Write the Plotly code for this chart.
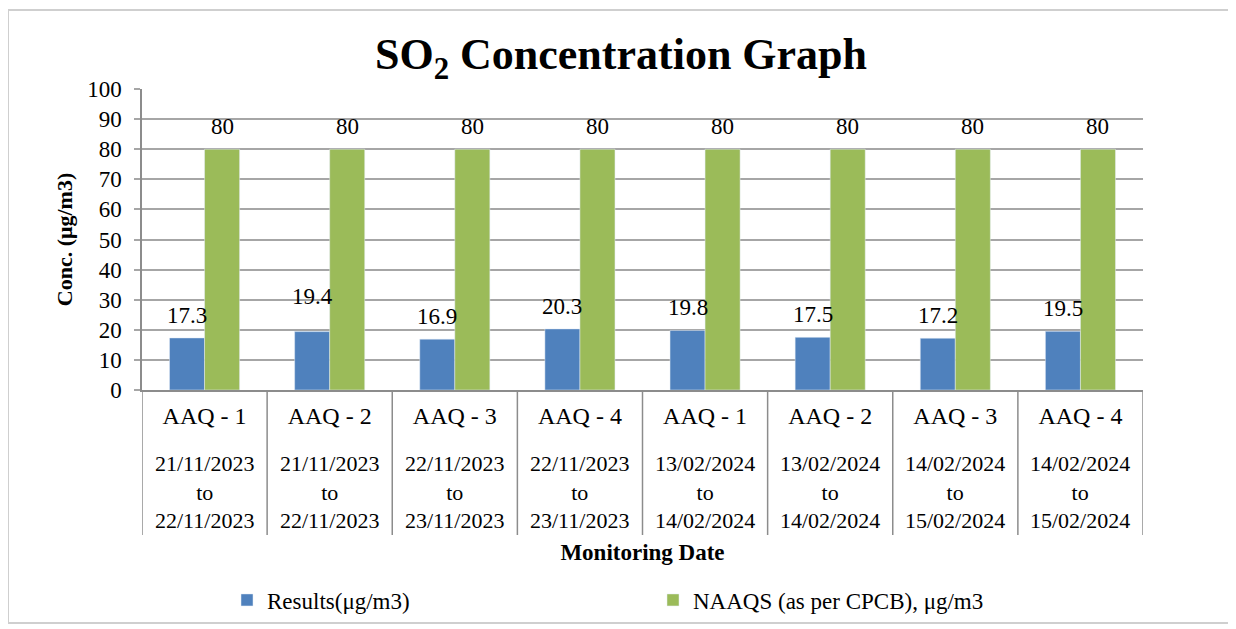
import plotly.graph_objects as go

# ---- data ----
stations = ["AAQ - 1", "AAQ - 2", "AAQ - 3", "AAQ - 4", "AAQ - 1", "AAQ - 2", "AAQ - 3", "AAQ - 4"]
date_from = ["21/11/2023", "21/11/2023", "22/11/2023", "22/11/2023", "13/02/2024", "13/02/2024", "14/02/2024", "14/02/2024"]
date_to = ["22/11/2023", "22/11/2023", "23/11/2023", "23/11/2023", "14/02/2024", "14/02/2024", "15/02/2024", "15/02/2024"]
results = [17.3, 19.4, 16.9, 20.3, 19.8, 17.5, 17.2, 19.5]
naaqs = [80, 80, 80, 80, 80, 80, 80, 80]
y_ticks = [0, 10, 20, 30, 40, 50, 60, 70, 80, 90, 100]

# ---- style ----
OFF = 8  # page body margin
W, H = 1236 - OFF, 629 - OFF
# desired page-pixel plot box
PL, PR, PT, PB = 142, 1143, 89, 390
ML, MT = PL - OFF, PT - OFF
MR, MB = W - (PR - OFF), H - (PB - OFF)
PW, PH = PR - PL, PB - PT
FONT = "Liberation Serif"
BLUE = "#4F81BD"
GREEN = "#9BBB59"
GRID = "#a6a6a6"
label_extra_shift = [0, 13, 0, 0, 0, 0, 0, 0]  # pixel nudges of result labels


def py(px):  # page pixel y -> paper y
    return (PB - px) / PH


def pxx(px):  # page pixel x -> paper x
    return (px - PL) / PW


xs = list(range(len(stations)))
half = 0.14

fig = go.Figure()
fig.add_trace(go.Bar(x=xs, y=results, name="Results(μg/m3)", marker_color=BLUE))
fig.add_trace(go.Bar(x=xs, y=naaqs, name="NAAQS (as per CPCB), μg/m3", marker_color=GREEN))

annotations = []
for i, v in enumerate(results):
    annotations.append(dict(x=i - half, y=v, xref="x", yref="y", text=f"{v}", showarrow=False,
                            yanchor="bottom", yshift=8 + label_extra_shift[i],
                            font=dict(family=FONT, size=23, color="#000")))
for i, v in enumerate(naaqs):
    annotations.append(dict(x=i + half, y=v, xref="x", yref="y", text=f"{v}", showarrow=False,
                            yanchor="bottom", yshift=8,
                            font=dict(family=FONT, size=23, color="#000")))
for i in xs:
    annotations.append(dict(x=i, y=py(492), xref="x", yref="paper",
                            text=f"{date_from[i]}<br>to<br>{date_to[i]}", showarrow=False,
                            yanchor="middle", font=dict(family=FONT, size=22, color="#000")))

shapes = []
for k in range(len(stations) + 1):
    shapes.append(dict(type="line", xref="x", yref="paper", x0=k - 0.5, x1=k - 0.5,
                       y0=0, y1=py(535), line=dict(color="#8c8c8c", width=1.5)))
shapes.append(dict(type="rect", xref="paper", yref="paper", x0=pxx(8), x1=pxx(1233),
                   y0=py(623), y1=py(10), line=dict(color="#cfcfcf", width=2), layer="below"))

fig.update_layout(
    width=W, height=H,
    margin=dict(l=ML, r=MR, t=MT, b=MB, autoexpand=False),
    paper_bgcolor="white", plot_bgcolor="white",
    barmode="group", bargap=0.44, bargroupgap=0,
    font=dict(family=FONT, size=23, color="#000"),
    title=dict(text="<b>SO<sub>2</sub> Concentration Graph</b>",
               x=pxx(621), xref="paper",
               xanchor="center", y=1 - (54 - OFF) / H, yref="container", yanchor="middle",
               font=dict(family=FONT, size=44, color="#000")),
    xaxis=dict(range=[-0.5, len(stations) - 0.5], tickmode="array", tickvals=xs, ticktext=stations,
               showgrid=False, zeroline=False, showline=True, linecolor="#8c8c8c", linewidth=1.5,
               ticks="", tickfont=dict(family=FONT, size=24, color="#000"), ticklabelstandoff=3,
               automargin=False,
               title=dict(text="<b>Monitoring Date</b>", standoff=116,
                          font=dict(family=FONT, size=23, color="#000"))),
    yaxis=dict(range=[0, 100], tickmode="array", tickvals=y_ticks, showgrid=True, gridcolor=GRID,
               gridwidth=1.5, zeroline=False, showline=True, linecolor="#8c8c8c", linewidth=1.5,
               ticks="outside", ticklen=6, tickcolor=GRID, tickwidth=1.5,
               tickfont=dict(family=FONT, size=23, color="#000"), ticklabelstandoff=8,
               automargin=False,
               title=dict(text="<b>Conc. (μg/m3)</b>", standoff=8,
                          font=dict(family=FONT, size=22, color="#000"))),
    legend=dict(orientation="h", x=pxx(227), xref="paper", y=(H - (600 - OFF)) / H, yref="container",
                yanchor="middle", xanchor="left", entrywidth=381, entrywidthmode="pixels",
                font=dict(family=FONT, size=23, color="#000"), bgcolor="rgba(0,0,0,0)"),
    annotations=annotations,
    shapes=shapes,
    showlegend=True,
)

fig.write_html("out.html")
